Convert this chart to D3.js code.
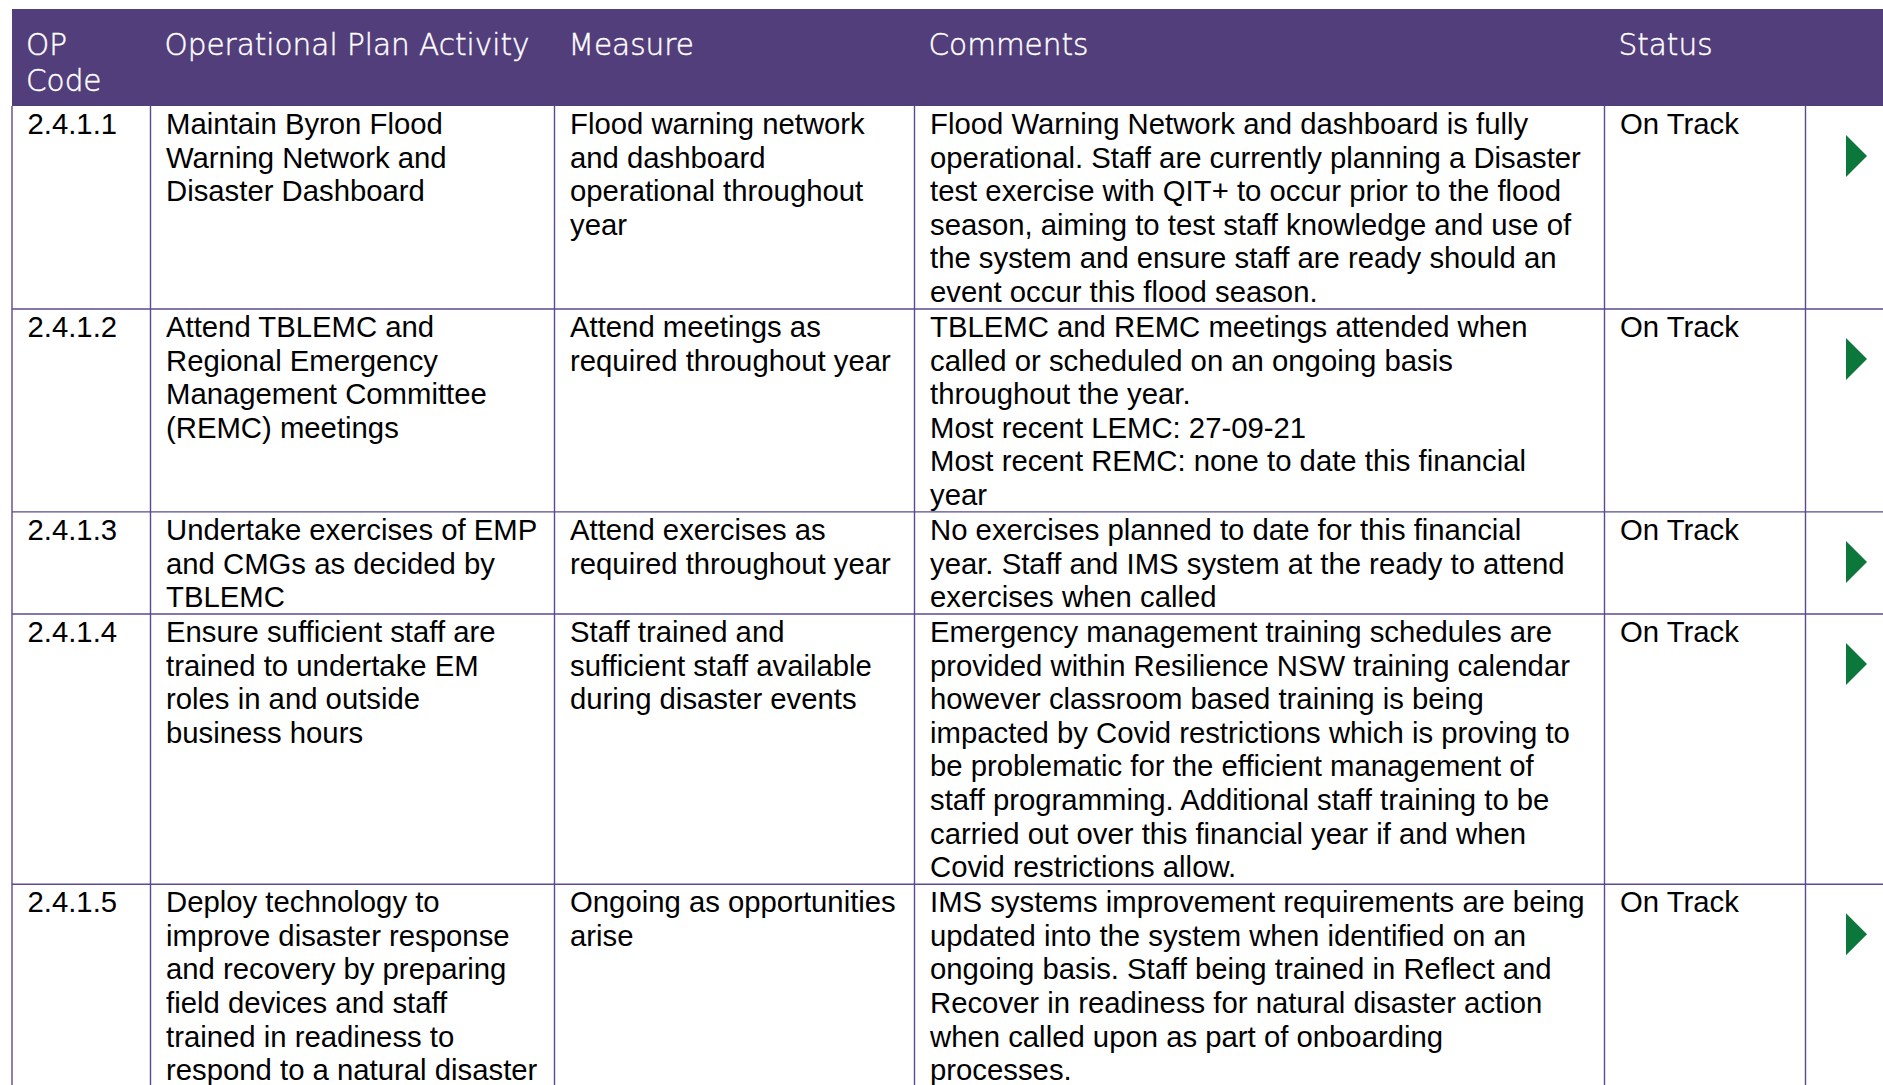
<!DOCTYPE html>
<html><head><meta charset="utf-8">
<script src="https://cdn.jsdelivr.net/npm/d3@7"></script>
<style>html,body{margin:0;padding:0;background:#fff;overflow:hidden}</style>
</head><body><svg id="c" width="1883" height="1085"></svg>
<script>
// ---- data ----
const headers = [["OP", "Code"], ["Operational Plan Activity"], ["Measure"], ["Comments"], ["Status"], [""]];
const codes = ["2.4.1.1", "2.4.1.2", "2.4.1.3", "2.4.1.4", "2.4.1.5"];
const activities = [
  ["Maintain Byron Flood", "Warning Network and", "Disaster Dashboard"],
  ["Attend TBLEMC and", "Regional Emergency", "Management Committee", "(REMC) meetings"],
  ["Undertake exercises of EMP", "and CMGs as decided by", "TBLEMC"],
  ["Ensure sufficient staff are", "trained to undertake EM", "roles in and outside", "business hours"],
  ["Deploy technology to", "improve disaster response", "and recovery by preparing", "field devices and staff", "trained in readiness to", "respond to a natural disaster"]
];
const measures = [
  ["Flood warning network", "and dashboard", "operational throughout", "year"],
  ["Attend meetings as", "required throughout year"],
  ["Attend exercises as", "required throughout year"],
  ["Staff trained and", "sufficient staff available", "during disaster events"],
  ["Ongoing as opportunities", "arise"]
];
const comments = [
  ["Flood Warning Network and dashboard is fully", "operational. Staff are currently planning a Disaster", "test exercise with QIT+ to occur prior to the flood", "season, aiming to test staff knowledge and use of", "the system and ensure staff are ready should an", "event occur this flood season."],
  ["TBLEMC and REMC meetings attended when", "called or scheduled on an ongoing basis", "throughout the year.", "Most recent LEMC: 27-09-21", "Most recent REMC: none to date this financial", "year"],
  ["No exercises planned to date for this financial", "year. Staff and IMS system at the ready to attend", "exercises when called"],
  ["Emergency management training schedules are", "provided within Resilience NSW training calendar", "however classroom based training is being", "impacted by Covid restrictions which is proving to", "be problematic for the efficient management of", "staff programming. Additional staff training to be", "carried out over this financial year if and when", "Covid restrictions allow."],
  ["IMS systems improvement requirements are being", "updated into the system when identified on an", "ongoing basis. Staff being trained in Reflect and", "Recover in readiness for natural disaster action", "when called upon as part of onboarding", "processes."]
];
const statuses = ["On Track", "On Track", "On Track", "On Track", "On Track"];
const trend = ["up", "up", "up", "up", "up"]; // green right-pointing marker = on track

// ---- layout ----
const W = 1883, H = 1085;
const svg = d3.select("#c");
const colEdges = [12, 150.5, 554.5, 914.5, 1604.5, 1805.5];
const x = d3.scaleOrdinal().domain(d3.range(6)).range(colEdges);
const pad = 15.5;
const headerTop = 9, headerBottom = 106;
const lineH = 33.6, rowPad = 1.35;
const purple = "#533e7c", grid = "#5b4a8e", green = "#0b773b";

const rows = codes.map((c, i) => ({
  cells: [[c], activities[i], measures[i], comments[i], [statuses[i]]],
  status: trend[i]
}));
const lineCounts = rows.map(r => d3.max(r.cells, c => c.length));
const tops = [headerBottom];
lineCounts.forEach((n, i) => tops.push(tops[i] + n * lineH + rowPad));
const y = d3.scaleOrdinal().domain(d3.range(rows.length + 1)).range(tops);

// header
svg.append("rect").attr("x", colEdges[0]).attr("y", headerTop)
  .attr("width", W - colEdges[0]).attr("height", headerBottom - headerTop).attr("fill", purple);
const hg = svg.append("g").attr("font-family", "'DejaVu Sans', sans-serif")
  .attr("font-weight", 200).attr("font-size", 29.5).attr("fill", "#fff")
  .attr("stroke", "#fff").attr("stroke-width", 0.45);
headers.forEach((h, j) => {
  const t = hg.append("text");
  h.forEach((ln, k) => t.append("tspan").attr("x", x(j) + pad - 1.5).attr("y", 55 + k * 36).text(ln));
});

// grid lines
const gl = svg.append("g").attr("stroke", grid).attr("stroke-width", 1.4);
d3.range(1, rows.length + 1).forEach(i => {
  gl.append("line").attr("x1", colEdges[0]).attr("x2", W).attr("y1", y(i)).attr("y2", y(i));
});
colEdges.forEach(cx => {
  gl.append("line").attr("x1", cx).attr("x2", cx).attr("y1", headerBottom).attr("y2", Math.min(H, y(rows.length)));
});

// body text
const bg = svg.append("g").attr("font-family", "'Liberation Sans', Arial, sans-serif")
  .attr("font-size", 29.3).attr("fill", "#000");
rows.forEach((r, i) => {
  r.cells.forEach((lines, j) => {
    const t = bg.append("text");
    lines.forEach((ln, k) => t.append("tspan").attr("x", x(j) + pad).attr("y", y(i) + 28 + k * lineH).text(ln));
  });
});

// status markers
const tri = d3.line();
rows.forEach((r, i) => {
  const cy = y(i) + 50, x0 = 1846;
  svg.append("path").attr("d", tri([[x0, cy - 21], [x0 + 21, cy], [x0, cy + 21]]) + "Z").attr("fill", green);
});
</script></body></html>
